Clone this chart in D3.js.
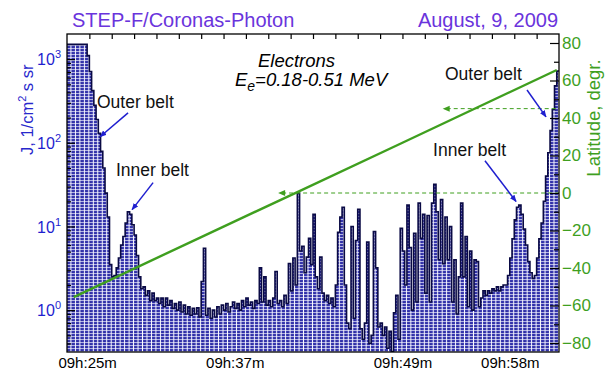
<!DOCTYPE html>
<html>
<head>
<meta charset="utf-8">
<script src="https://cdn.jsdelivr.net/npm/d3@7"></script>
<style>
  body { margin: 0; background: #fff; }
  svg { display: block; font-family: Arial, "Liberation Sans", sans-serif; }
</style>
</head>
<body>
<div id="chart"></div>
<script>
// electron flux J (1/cm2 s sr), one value per sample along the pass
const flux = [
  1500, 1500, 1500, 1500, 1500, 1500, 1500, 1500, 1500,
  1100, 710, 420, 280, 190, 130, 79, 50, 25, 13, 3.5, 2.5, 2.6, 3.2, 4.2, 6.0, 7.6, 11, 15, 14, 10.5, 7.9, 4.5, 2.5, 1.8,
  1.9, 1.5, 1.7, 1.3, 1.6, 1.3, 1.4, 1.2, 1.4, 1.1, 1.4, 1.15, 1.3, 1.05, 1.2, 1.0, 1.25, 0.95, 1.15, 0.9, 1.1, 0.87, 1.05, 0.9, 1.07, 0.83,
  2.2, 5.5, 0.87, 1.05, 0.8, 1.0, 0.83, 1.1, 0.9, 1.15, 1.0, 1.2, 0.95, 1.1, 1.25, 1.05, 1.2, 1.0, 1.3, 1.1, 1.4, 1.15, 1.25, 1.05, 1.3, 1.2, 3.2, 1.25, 2.5, 1.15,
  1.3, 1.1, 1.4, 2.9, 1.2, 1.3, 1.1, 1.5, 1.2, 3.6, 1.7, 4.2, 2.0, 25, 5.1, 5.8, 2.8, 4.3, 7.2, 3.5, 14, 2.5, 1.8, 4.3, 1.6, 1.3, 1.5, 1.2, 1.4, 1.1,
  2.0, 8.5, 13, 17, 2.0, 0.7, 0.6, 10, 0.8, 6.8, 16, 0.6, 0.45, 0.7, 6.5, 0.4, 0.5, 8.7, 3.2, 0.63, 0.7, 0.5, 0.63, 0.35, 0.56, 0.32, 0.93, 1.5, 0.45, 9.5,
  5.1, 2.0, 18, 5.6, 1.0, 8.3, 1.25, 19, 7.2, 14, 1.6, 13.5, 1.25, 19, 32, 15, 4.0, 21, 3.6, 13, 4.0, 10, 1.25, 4.0, 0.9, 2.5, 19, 2.5, 7.6, 1.1,
  5.1, 1.0, 4.0, 3.8, 1.1, 1.4, 1.7, 1.5, 1.7, 1.6, 1.8, 1.7, 1.9, 1.7, 1.9, 2.0, 2.0, 2.6, 4.2, 7.1, 12, 17, 18, 14, 9.3, 6.0, 3.8, 2.8, 2.4, 2.6,
  4.2, 7.1, 11, 20, 40, 76, 140, 250, 480, 720
];

// satellite latitude (degr.) at some sample indices
const latSamples = [3, 60, 103, 150, 219];
const latValues = [-55.5, -23.5, 0.5, 26.8, 65.6];

// dashed reference latitudes and the sample where their arrow starts
const refLats = [0, 45];
const refStarts = [94.4, 168];

const timeTickSamples = [9, 75, 150, 198];
const timeTickLabels = ['09h:25m', '09h:37m', '09h:49m', '09h:58m'];
const fluxTicks = [1, 10, 100, 1000];
const latTicks = [-80, -60, -40, -20, 0, 20, 40, 60, 80];

// belt annotations: text anchor and arrow (sample, flux)
const notes = [
  {text: 'Outer belt', at: [13.4, 261], from: [27.3, 228], to: [14.8, 118]},
  {text: 'Inner belt', at: [21.9, 40.5], from: [38.5, 33.4], to: [29.1, 15.9]},
  {text: 'Outer belt', at: [169, 562], from: [205.7, 428], to: [214.2, 204]},
  {text: 'Inner belt', at: [163.7, 70], from: [186.9, 61], to: [200.8, 19.9]}
];

const W = 606, H = 374;
const margin = {top: 34, right: 47, bottom: 22, left: 67};
const width = W - margin.left - margin.right;
const height = H - margin.top - margin.bottom;

const blue = '#1f1fcf';
const green = '#3f9f1f';
const purple = '#6a34dc';

const x = d3.scaleLinear().domain([0, flux.length]).range([0, width]);
const y = d3.scaleLog().domain([Math.pow(10, -0.5), Math.pow(10, 3.3)]).range([height, 0]);
const lat = d3.scaleLinear().domain([-84.8, 84.8]).range([height, 0]);

const svg = d3.select('#chart').append('svg')
  .attr('width', W)
  .attr('height', H);

const defs = svg.append('defs');
const pw = x(2) - x(0);
const pat = defs.append('pattern')
  .attr('id', 'hatch')
  .attr('patternUnits', 'userSpaceOnUse')
  .attr('x', margin.left)
  .attr('y', 0)
  .attr('width', pw)
  .attr('height', 3);
pat.append('rect').attr('width', pw).attr('height', 3).attr('fill', '#fff');
pat.append('rect').attr('width', pw - 0.9).attr('height', 2.4).attr('fill', '#3e3eb6');
pat.append('rect').attr('x', 1).attr('y', 0.6).attr('width', 1.2).attr('height', 1.2).attr('fill', '#22228e');

const g = svg.append('g')
  .attr('transform', 'translate(' + margin.left + ',' + margin.top + ')');

g.append('clipPath').attr('id', 'clip')
  .append('rect').attr('width', width).attr('height', height);

// flux histogram
const pts = flux.map((v, i) => [i, v]);
pts.push([flux.length, flux[flux.length - 1]]);

const area = d3.area()
  .x(d => x(d[0]))
  .y0(height)
  .y1(d => y(d[1]))
  .curve(d3.curveStepAfter);

const outline = d3.line()
  .x(d => x(d[0]))
  .y(d => y(d[1]))
  .curve(d3.curveStepAfter);

const plot = g.append('g').attr('clip-path', 'url(#clip)');

plot.append('path')
  .datum(pts)
  .attr('d', area)
  .attr('fill', 'url(#hatch)');

plot.append('path')
  .datum(pts)
  .attr('d', outline)
  .attr('fill', 'none')
  .attr('stroke', '#0a0a44')
  .attr('stroke-width', 1.6)
  .attr('stroke-linejoin', 'miter');

// latitude track
plot.append('path')
  .datum(latSamples.map((s, i) => [s, latValues[i]]))
  .attr('d', d3.line().x(d => x(d[0])).y(d => lat(d[1])))
  .attr('fill', 'none')
  .attr('stroke', green)
  .attr('stroke-width', 2.4);

// dashed latitude references with arrow heads
refLats.forEach((l, i) => {
  const x0 = x(refStarts[i]);
  g.append('line')
    .attr('x1', x0 + 4).attr('x2', width)
    .attr('y1', lat(l)).attr('y2', lat(l))
    .attr('stroke', green)
    .attr('stroke-width', 1)
    .attr('stroke-dasharray', '4,3');
  g.append('path')
    .attr('d', 'M' + x0 + ',' + lat(l) + 'l7,-3l0,6z')
    .attr('fill', green);
});

// frame
g.append('rect')
  .attr('width', width)
  .attr('height', height)
  .attr('fill', 'none')
  .attr('stroke', '#000')
  .attr('stroke-width', 1.3);

// top ticks
g.append('g')
  .call(d3.axisTop(x).tickValues(d3.range(10, flux.length, 10)).tickSizeInner(-5).tickSizeOuter(0).tickFormat(''))
  .call(a => a.select('.domain').remove())
  .selectAll('line').attr('stroke', '#000').attr('stroke-width', 1.2);

// left log axis
const minor = [];
for (let e = -1; e <= 3; e++) {
  for (let m = 2; m <= 9; m++) {
    const v = m * Math.pow(10, e);
    if (v > y.domain()[0] && v < y.domain()[1]) minor.push(v);
  }
}
g.append('g')
  .call(d3.axisLeft(y).tickValues(minor).tickSizeInner(-4).tickSizeOuter(0).tickFormat(''))
  .call(a => a.select('.domain').remove())
  .selectAll('line').attr('stroke', '#000').attr('stroke-width', 1.2);

const yAx = g.append('g')
  .call(d3.axisLeft(y).tickValues(fluxTicks).tickSizeInner(-8).tickSizeOuter(0).tickPadding(6).tickFormat(''))
  .call(a => a.select('.domain').remove());
yAx.selectAll('line').attr('stroke', '#000').attr('stroke-width', 1.2);
yAx.selectAll('.tick text').each(function(d) {
  const t = d3.select(this)
    .attr('fill', blue)
    .attr('font-size', 16)
    .attr('dy', '0.35em');
  t.append('tspan').text('10');
  t.append('tspan').attr('dy', -7).attr('font-size', 11).text(Math.round(Math.log10(d)));
});

// right latitude axis
g.append('g')
  .attr('transform', 'translate(' + width + ',0)')
  .call(d3.axisRight(lat).tickValues(d3.range(-70, 80, 20)).tickSizeInner(-5).tickSizeOuter(0).tickFormat(''))
  .call(a => a.select('.domain').remove())
  .selectAll('line').attr('stroke', '#000').attr('stroke-width', 1.2);

const rAx = g.append('g')
  .attr('transform', 'translate(' + width + ',0)')
  .call(d3.axisRight(lat).tickValues(latTicks).tickSizeInner(-9).tickSizeOuter(0).tickPadding(3))
  .call(a => a.select('.domain').remove());
rAx.selectAll('line').attr('stroke', '#000').attr('stroke-width', 1.2);
rAx.selectAll('text')
  .attr('fill', green)
  .attr('font-size', 17)
  .attr('font-family', 'Arial, "Liberation Sans", sans-serif');

// bottom time labels
g.append('g')
  .attr('transform', 'translate(0,' + height + ')')
  .call(d3.axisBottom(x).tickValues(timeTickSamples).tickSize(0).tickPadding(5)
    .tickFormat((d, i) => timeTickLabels[i]))
  .call(a => a.select('.domain').remove())
  .selectAll('text')
  .attr('fill', '#000')
  .attr('font-size', 15)
  .attr('font-family', 'Arial, "Liberation Sans", sans-serif');

// axis titles
const jLabel = svg.append('text')
  .attr('transform', 'translate(33,' + (margin.top + y(100) - 33) + ') rotate(-90)')
  .attr('text-anchor', 'middle')
  .attr('fill', '#2828cc')
  .attr('font-size', 16.5);
jLabel.append('tspan').text('J, 1/cm');
jLabel.append('tspan').attr('dy', -7).attr('font-size', 11).text('2');
jLabel.append('tspan').attr('dy', 7).text(' s sr');

svg.append('text')
  .attr('transform', 'translate(600,' + (margin.top + lat(40)) + ') rotate(-90)')
  .attr('text-anchor', 'middle')
  .attr('fill', green)
  .attr('font-size', 18.5)
  .text('Latitude, degr.');

// titles
svg.append('text')
  .attr('x', 72).attr('y', 27)
  .attr('fill', purple)
  .attr('font-size', 20)
  .text('STEP-F/Coronas-Photon');

svg.append('text')
  .attr('x', 558).attr('y', 27)
  .attr('text-anchor', 'end')
  .attr('fill', purple)
  .attr('font-size', 20)
  .text('August, 9, 2009');

// species / energy labels
g.append('text')
  .attr('x', x(85.4)).attr('y', y(803))
  .attr('font-size', 18.5)
  .attr('font-style', 'italic')
  .text('Electrons');

const eLabel = g.append('text')
  .attr('x', x(75.1)).attr('y', y(477))
  .attr('font-size', 18.5)
  .attr('font-style', 'italic');
eLabel.append('tspan').text('E');
eLabel.append('tspan').attr('dy', 5).attr('font-size', 14).text('e');
eLabel.append('tspan').attr('dy', -5).text('=0.18-0.51 MeV');

// belt annotations
defs.append('marker')
  .attr('id', 'arr')
  .attr('viewBox', '0 0 10 10')
  .attr('refX', 9).attr('refY', 5)
  .attr('markerWidth', 7).attr('markerHeight', 7)
  .attr('markerUnits', 'userSpaceOnUse')
  .attr('orient', 'auto')
  .append('path')
  .attr('d', 'M0,1L10,5L0,9z')
  .attr('fill', blue);

notes.forEach(n => {
  g.append('text')
    .attr('x', x(n.at[0])).attr('y', y(n.at[1]))
    .attr('font-size', 17.5)
    .attr('fill', '#111')
    .text(n.text);
  g.append('line')
    .attr('x1', x(n.from[0])).attr('y1', y(n.from[1]))
    .attr('x2', x(n.to[0])).attr('y2', y(n.to[1]))
    .attr('stroke', blue)
    .attr('stroke-width', 1.5)
    .attr('marker-end', 'url(#arr)');
});
</script>
</body>
</html>
